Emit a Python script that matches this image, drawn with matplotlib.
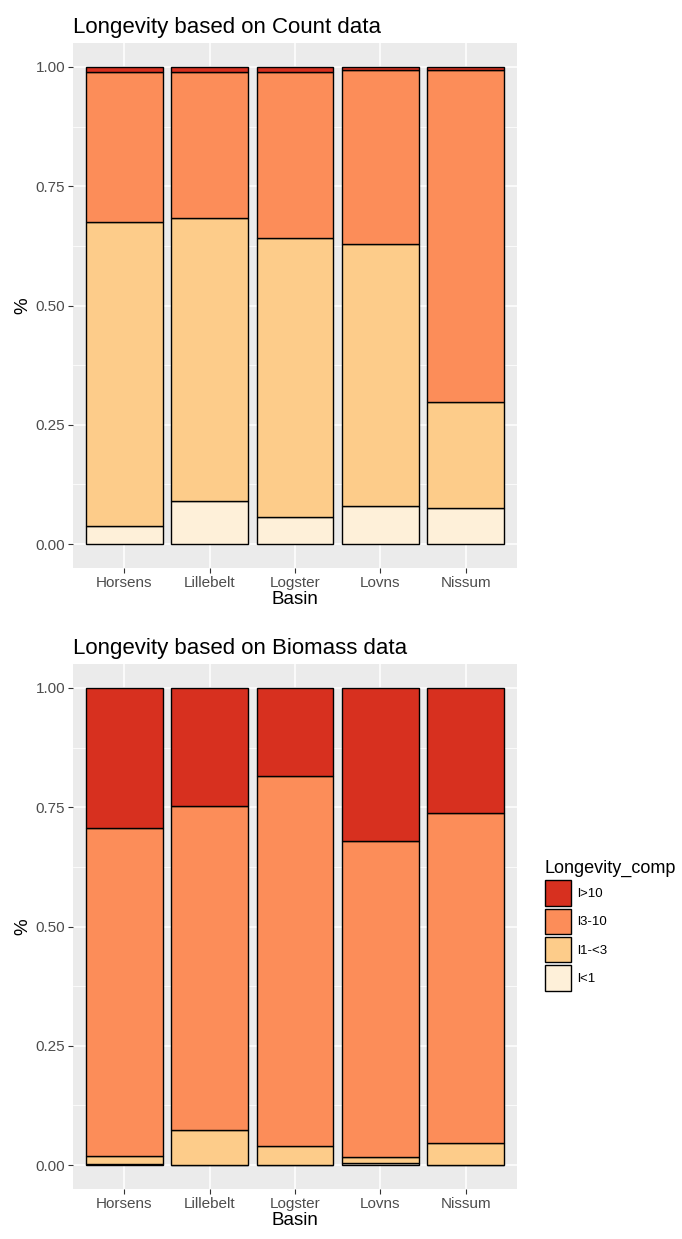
import matplotlib
matplotlib.use("Agg")
import matplotlib.pyplot as plt
import numpy as np
from matplotlib.patches import Patch

basins = ["Horsens", "Lillebelt", "Logster", "Lovns", "Nissum"]
groups = ["l<1", "l1-<3", "l3-10", "l>10"]
colors = {"l<1": "#FEF0D9", "l1-<3": "#FDCC8A", "l3-10": "#FC8D59", "l>10": "#D7301F"}

# proportions (bottom to top)
count_lt1 = [0.038, 0.090, 0.057, 0.080, 0.075]
count_1_3 = [0.638, 0.593, 0.584, 0.548, 0.222]
count_3_10 = [0.314, 0.307, 0.349, 0.365, 0.697]
count_gt10 = [0.010, 0.010, 0.010, 0.007, 0.006]

bio_lt1 = [0.002, 0.001, 0.001, 0.004, 0.001]
bio_1_3 = [0.017, 0.072, 0.039, 0.013, 0.045]
bio_3_10 = [0.687, 0.680, 0.775, 0.663, 0.691]
bio_gt10 = [0.294, 0.247, 0.185, 0.320, 0.263]

plt.rcParams['font.family'] = ['Liberation Sans', 'DejaVu Sans']

fig = plt.figure(figsize=(6.82, 12.39), dpi=100)
ax1 = fig.add_axes([73/682, 1-568/1239, 444/682, 525/1239])
ax2 = fig.add_axes([73/682, 1-1189/1239, 444/682, 525/1239])

def draw(ax, series, title):
    ax.set_facecolor("#EBEBEB")
    x = np.arange(1, len(basins)+1)
    bottom = np.zeros(len(basins))
    for g, vals in zip(groups, series):
        v = np.array(vals)
        ax.bar(x, v, width=0.9, bottom=bottom, color=colors[g], edgecolor="black", linewidth=1.0, zorder=3)
        bottom += v
    ax.set_xlim(0.4, 5.6)
    ax.set_ylim(-0.05, 1.05)
    ax.set_yticks([0, 0.25, 0.5, 0.75, 1.0])
    ax.set_yticklabels(["0.00", "0.25", "0.50", "0.75", "1.00"])
    ax.set_yticks([0.125, 0.375, 0.625, 0.875], minor=True)
    ax.set_xticks(x)
    ax.set_xticklabels(basins)
    ax.grid(which="major", color="white", linewidth=1.1, zorder=0)
    ax.grid(which="minor", axis="y", color="white", linewidth=0.55, zorder=0)
    ax.tick_params(which="major", length=3.5, width=0.8, color="#333333", labelcolor="#4D4D4D", labelsize=11, pad=2)
    ax.tick_params(which="minor", length=0)
    for s in ax.spines.values():
        s.set_visible(False)
    ax.set_xlabel("Basin", fontsize=13.5, labelpad=1)
    ax.set_ylabel("%", fontsize=13.5, labelpad=3)
    ax.set_title(title, fontsize=16, loc="left", pad=7, x=0.0)
    ax.set_axisbelow(True)

draw(ax1, [count_lt1, count_1_3, count_3_10, count_gt10], "Longevity based on Count data")
draw(ax2, [bio_lt1, bio_1_3, bio_3_10, bio_gt10], "Longevity based on Biomass data")

handles = [Patch(facecolor=colors[g], edgecolor="black", linewidth=1.0, label=g) for g in groups[::-1]]
leg = fig.legend(handles=handles, title="Longevity_comp", loc="upper left",
                 bbox_to_anchor=(545/682, 1-860/1239), frameon=False, fontsize=9.5,
                 title_fontsize=13, handlelength=2.0, handleheight=2.6,
                 labelspacing=0.22, handletextpad=0.45, borderaxespad=0, borderpad=0)
leg._legend_box.align = "left"

fig.savefig("out.png", dpi=100)
